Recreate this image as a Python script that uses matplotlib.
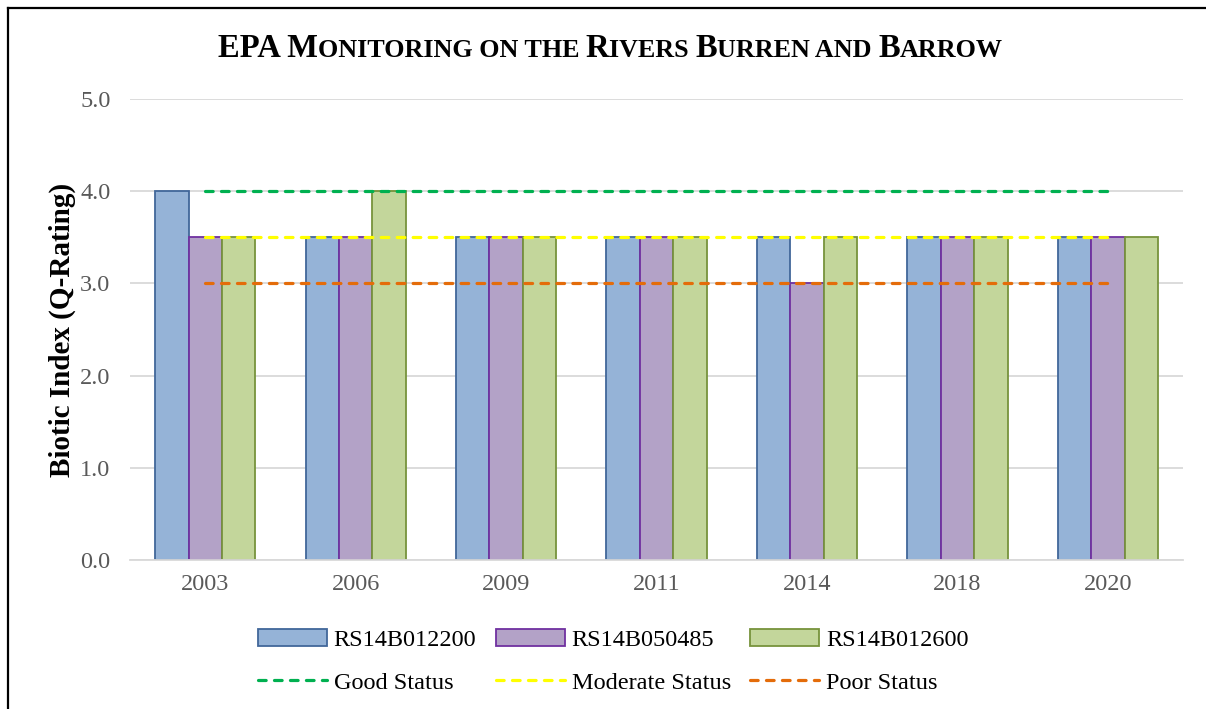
import numpy as np
import matplotlib
matplotlib.use("Agg")
import matplotlib.pyplot as plt
from matplotlib.offsetbox import TextArea, HPacker, AnchoredOffsetbox
from matplotlib.lines import Line2D

# data
years = ["2003", "2006", "2009", "2011", "2014", "2018", "2020"]
rs14b012200 = [4.0, 3.5, 3.5, 3.5, 3.5, 3.5, 3.5]
rs14b050485 = [3.5, 3.5, 3.5, 3.5, 3.0, 3.5, 3.5]
rs14b012600 = [3.5, 4.0, 3.5, 3.5, 3.5, 3.5, 3.5]
good_status = [4.0] * 7
moderate_status = [3.5] * 7
poor_status = [3.0] * 7

plt.rcParams['font.family'] = ['Liberation Serif', 'DejaVu Serif']

fig = plt.figure(figsize=(12.06, 7.09), dpi=100)
ax = fig.add_axes([0.1078, 0.2102, 0.8732, 0.6502])

x = np.arange(len(years))
w = 0.222
bars = [
    (rs14b012200, "RS14B012200", "#95B3D7", "#41679A"),
    (rs14b050485, "RS14B050485", "#B3A2C7", "#7030A0"),
    (rs14b012600, "RS14B012600", "#C3D69B", "#77933C"),
]
handles = []
for i, (vals, name, fc, ec) in enumerate(bars):
    b = ax.bar(x + (i - 1) * w, vals, w, color=fc, edgecolor=ec, linewidth=1.3,
               label=name, zorder=2)
    handles.append(b)

lines = [
    (good_status, "Good Status", "#00B050"),
    (moderate_status, "Moderate Status", "#FFFF00"),
    (poor_status, "Poor Status", "#E46C0A"),
]
lhandles = []
for vals, name, col in lines:
    l, = ax.plot(x, vals, color=col, lw=2.3, dashes=(2.4, 2.6),
                 dash_capstyle='round', label=name, zorder=3)
    lhandles.append(l)

ax.set_xlim(-0.5, len(years) - 0.5)
ax.set_ylim(0, 5)
ax.set_yticks(np.arange(0, 5.01, 1.0))
ax.set_yticklabels([f"{v:.1f}" for v in np.arange(0, 5.01, 1.0)])
ax.set_xticks(x)
ax.set_xticklabels(years)
ax.tick_params(length=0, labelsize=17.5, labelcolor="#595959")
ax.tick_params(axis='y', pad=14)
ax.tick_params(axis='x', pad=10)
ax.grid(axis='y', color="#D9D9D9", lw=1.3, zorder=0)
ax.set_axisbelow(True)
for s in ["top", "right", "left"]:
    ax.spines[s].set_visible(False)
ax.spines["bottom"].set_color("#D9D9D9")
ax.spines["bottom"].set_linewidth(1.3)

ax.set_ylabel("Biotic Index (Q-Rating)", fontsize=21, fontweight="bold", labelpad=3)

# small caps title
big, small = 23.5, 18.8
parts = [("EPA M", big), ("ONITORING ON THE ", small), ("R", big), ("IVERS ", small),
         ("B", big), ("URREN AND ", small), ("B", big), ("ARROW", small)]
boxes = [TextArea(t, textprops=dict(fontsize=s, fontweight="bold", color="black"))
         for t, s in parts]
pack = HPacker(children=boxes, align="baseline", pad=0, sep=0)
ab = AnchoredOffsetbox(loc="center", child=pack, frameon=False,
                       bbox_to_anchor=(0.506, 0.931), bbox_transform=fig.transFigure,
                       borderpad=0, pad=0)
fig.add_artist(ab)

leg_h = [handles[0], lhandles[0], handles[1], lhandles[1], handles[2], lhandles[2]]
leg_l = [h.get_label() for h in leg_h]
fig.legend(leg_h, leg_l, loc="center", bbox_to_anchor=(0.5085, 0.067), ncol=3,
           frameon=False, fontsize=17.5, handlelength=2.84, handletextpad=0.29,
           columnspacing=0.8, labelspacing=0.85, handleheight=0.7)

# partial frame of the original box
fig.add_artist(Line2D([0.0065, 0.0065], [0, 0.989], transform=fig.transFigure,
                      color="black", lw=1.6))
fig.add_artist(Line2D([0.0065, 1.0], [0.989, 0.989], transform=fig.transFigure,
                      color="black", lw=1.6))

fig.savefig("out.png", dpi=100)
